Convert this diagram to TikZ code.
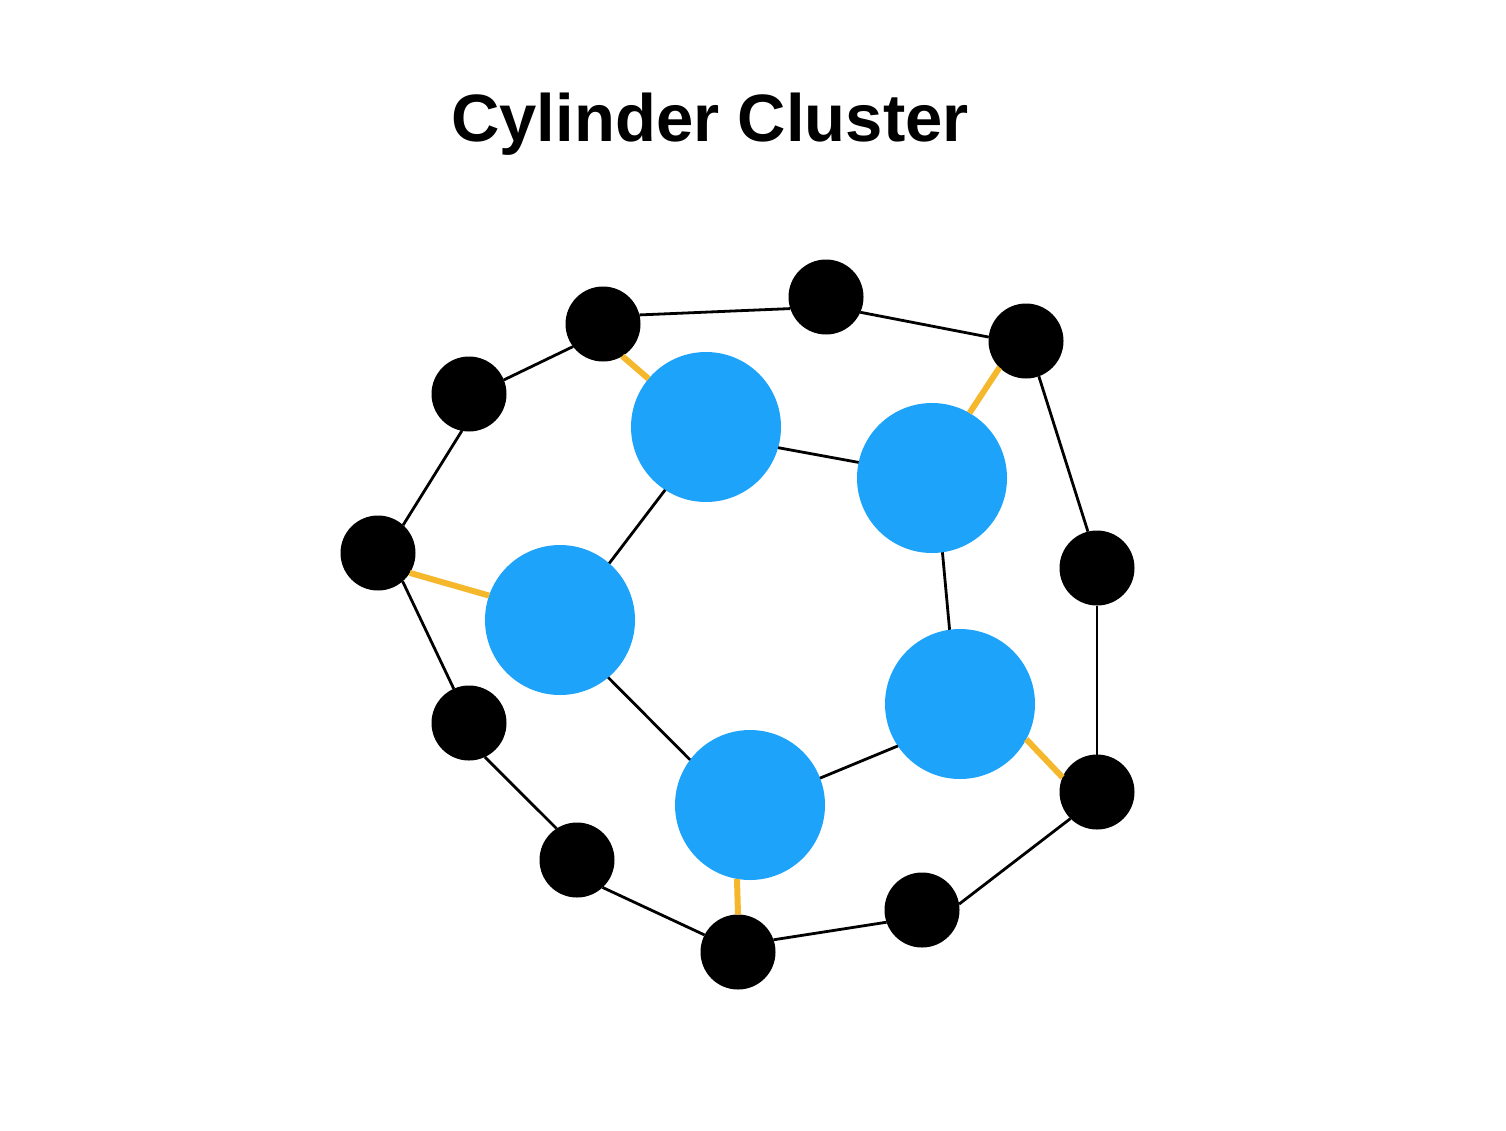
\documentclass[tikz,border=0pt]{standalone}
\usepackage{fontspec}
\setmainfont{Liberation Sans}
\definecolor{cblue}{HTML}{1DA3FA}
\definecolor{corange}{HTML}{F5B82C}
\begin{document}
\begin{tikzpicture}[x=1pt,y=-1pt,
  bigc/.style={circle,fill=cblue,minimum size=150pt,inner sep=0pt,outer sep=0pt},
  smallc/.style={circle,fill=black,minimum size=75pt,inner sep=0pt,outer sep=0pt},
  blk/.style={line width=2.8pt,black},
  org/.style={line width=6pt,corange}]
\useasboundingbox (0,0) rectangle (1506,1130);
\node[font=\bfseries\fontsize{67}{70}\selectfont,anchor=base] (title) at (710,141) {Cylinder Cluster};
\node[bigc] (b1) at (706,427) {};
\node[bigc] (b2) at (932,478) {};
\node[bigc] (b3) at (560,620) {};
\node[bigc] (b4) at (960,704) {};
\node[bigc] (b5) at (750,805) {};
\node[smallc] (k1) at (603,324) {};
\node[smallc] (k2) at (826,297) {};
\node[smallc] (k3) at (1026,341) {};
\node[smallc] (k4) at (469,394) {};
\node[smallc] (k5) at (378,553) {};
\node[smallc] (k6) at (1097,568) {};
\node[smallc] (k7) at (469,723) {};
\node[smallc] (k8) at (1097,792) {};
\node[smallc] (k9) at (577,860) {};
\node[smallc] (k10) at (922,910) {};
\node[smallc] (k11) at (738,952) {};
% outer ring
\draw[blk] (k4.22) -- (k1.217);
\draw[blk] (k1.14) -- (k2.198);
\draw[blk] (k2.336) -- (k3.174);
\draw[blk] (k3.290) -- (k6.104);
\draw[blk] (k6.270) -- (k8.90);
\draw[blk] (k8.225) -- (k10.9);
\draw[blk] (k10.199) -- (k11.19);
\draw[blk] (k11.153) -- (k9.313);
\draw[blk] (k9.123) -- (k7.295);
\draw[blk] (k7.114) -- (k5.311);
\draw[blk] (k5.48) -- (k4.259);
% inner ring
\draw[blk] (b1.344) -- (b2.168);
\draw[blk] (b2.278) -- (b4.98);
\draw[blk] (b4.214) -- (b5.21);
\draw[blk] (b5.143) -- (b3.310);
\draw[blk] (b3.49) -- (b1.237);
% spokes
\draw[org] (k1.301) -- (b1.140);
\draw[org] (k3.225) -- (b2.60);
\draw[org] (k5.328) -- (b3.161);
\draw[org] (k8.157) -- (b4.332);
\draw[org] (k11.90) -- (b5.260);
\end{tikzpicture}
\end{document}
